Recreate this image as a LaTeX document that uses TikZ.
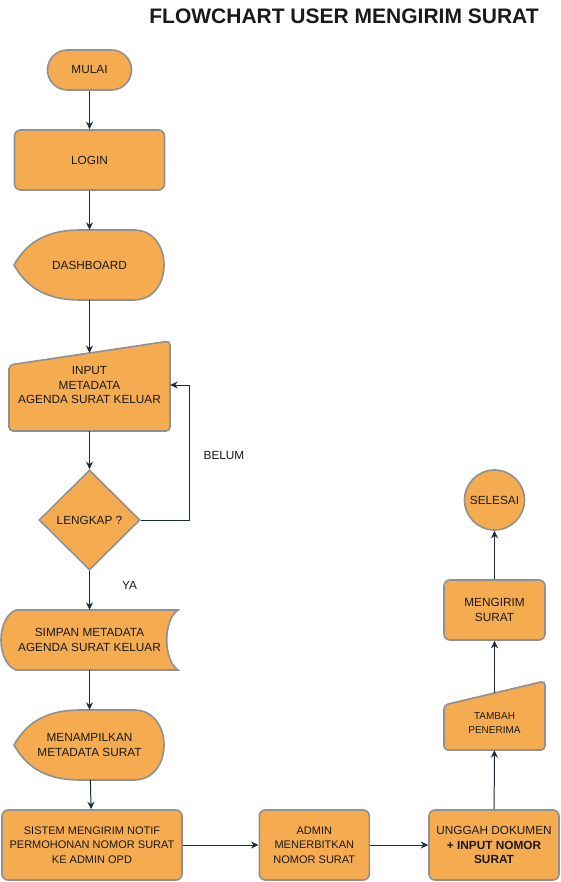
\documentclass[tikz,border=0pt]{standalone}
\usepackage{fontspec}
\setmainfont{Liberation Sans}
\usepackage{xcolor}
\definecolor{boxfill}{HTML}{F5AB50}
\definecolor{boxline}{HTML}{909090}
\definecolor{arrowcol}{HTML}{182E3E}
\definecolor{textcol}{HTML}{1A1A1A}
\usepackage{tikz}
\usetikzlibrary{positioning}
\usetikzlibrary{arrows.meta,shapes}
\usetikzlibrary{calc}

\begin{document}
\begin{tikzpicture}[x=1pt,y=-1pt,
  plain/.style={align=center,text=textcol,inner sep=0pt,font=\fontsize{11.8}{14.5}\selectfont},
  shapeline/.style={draw=boxline,fill=boxfill,line width=1.6pt},
  procbox/.style={plain,shapeline,rectangle,rounded corners=6pt},
  conn/.style={->,>={Stealth[length=7.5pt,width=7pt,inset=2.5pt]},draw=arrowcol,line width=1pt}]
\path[fill=white] (0,0) rectangle (561,882);
\useasboundingbox (0,0) rectangle (561,882);

%outlines of the special shapes
\foreach \y in {265,745}{
  \draw[shapeline] (14,\y) .. controls (28,\y-25) and (50,\y-35) .. (80,\y-35) -- (134,\y-35)
    .. controls (174,\y-35) and (174,\y+35) .. (134,\y+35) -- (80,\y+35)
    .. controls (50,\y+35) and (28,\y+25) .. (14,\y) -- cycle;
}
\draw[shapeline,rounded corners=4pt] (9,365) -- (170,341) -- (170,431) -- (9,431) -- cycle;
\draw[shapeline,rounded corners=4pt] (444,705) -- (545,681) -- (545,750) -- (444,750) -- cycle;
\draw[shapeline] (16,610) -- (178,610) .. controls (163,620) and (163,660) .. (178,670)
  -- (16,670) .. controls (-4,662) and (-4,618) .. (16,610) -- cycle;

%left column
\node (mulai) at (89.5,70) [procbox,rounded corners=20pt,minimum width=84pt,minimum height=40pt] {MULAI};
\node (login) at (89.5,160) [procbox,minimum width=150pt,minimum height=60pt] {LOGIN};
\node (dash) at (89.5,265) [plain,minimum width=150pt,minimum height=70pt] {DASHBOARD};
\node (input) at (89.5,385) [plain,minimum width=161pt,minimum height=91pt] {INPUT\\METADATA\\AGENDA SURAT KELUAR};
\coordinate (inputtop) at (89.5,353);
\node (lengkap) at (89.5,520) [plain,shapeline,diamond,minimum width=101pt,minimum height=100pt] {LENGKAP ?};
\node (simpan) at (89.5,640) [plain,minimum width=177pt,minimum height=60pt] {SIMPAN METADATA\\AGENDA SURAT KELUAR};
\node (tampil) at (89.5,745) [plain,minimum width=150pt,minimum height=70pt] {MENAMPILKAN\\METADATA SURAT};

%bottom row
\node (sistem) at (92,845) [procbox,font=\fontsize{11}{14.5}\selectfont,minimum width=180pt,minimum height=70pt] {SISTEM MENGIRIM NOTIF\\PERMOHONAN NOMOR SURAT\\KE ADMIN OPD};
\node (admin) at (314.3,845) [procbox,font=\fontsize{11}{14.5}\selectfont,minimum width=110pt,minimum height=70pt] {ADMIN\\MENERBITKAN\\NOMOR SURAT};
\node (unggah) at (494,845) [procbox,minimum width=130pt,minimum height=70pt] {UNGGAH DOKUMEN\\\textbf{+ INPUT NOMOR}\\\textbf{SURAT}};

%right column
\node (tambah) at (494.5,723) [plain,font=\fontsize{10}{14}\selectfont,minimum width=101pt,minimum height=54pt] {TAMBAH\\PENERIMA};
\coordinate (tambahtop) at (494.5,693);
\node (kirim) at (494.5,610) [procbox,minimum width=101pt,minimum height=60pt] {MENGIRIM\\SURAT};
\node (selesai) at (494.5,500) [plain,shapeline,circle,minimum size=60pt] {SELESAI};

%labels
\node (title) at (344,16) [text=textcol,font=\fontsize{21}{25}\selectfont\bfseries] {FLOWCHART USER MENGIRIM SURAT};
\node (belum) at (224,455) [plain] {BELUM};
\node (ya) at (129.5,585) [plain] {YA};

%connectors
\draw[conn] (mulai) -- (login);
\draw[conn] (login) -- (dash);
\draw[conn] (dash) -- (inputtop);
\draw[conn] (input) -- (lengkap);
\draw[conn] (lengkap.east) -- ++(49,0) |- (input.east);
\draw[conn] (lengkap) -- (simpan);
\draw[conn] (simpan) -- (tampil);
\draw[conn] (tampil) -- (sistem);
\draw[conn] (sistem) -- (admin);
\draw[conn] (admin) -- (unggah);
\draw[conn] (unggah) -- (tambah);
\draw[conn] (tambahtop) -- (kirim);
\draw[conn] (kirim) -- (selesai);
\end{tikzpicture}
\end{document}
